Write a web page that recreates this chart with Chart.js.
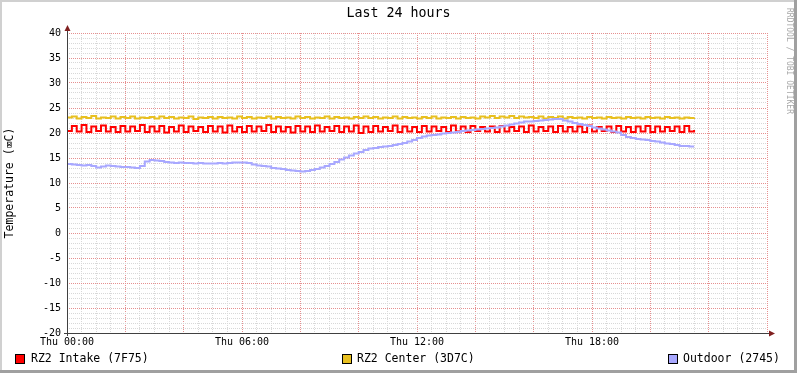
<!DOCTYPE html>
<html>
<head>
<meta charset="utf-8">
<title>Last 24 hours</title>
<script src="https://cdn.jsdelivr.net/npm/chart.js@4.4.1/dist/chart.umd.min.js"></script>
<style>
  html, body { margin: 0; padding: 0; background: #fff; }
  canvas { display: block; }
</style>
</head>
<body>
<canvas id="myChart" width="797" height="373"></canvas>
<script>
// ==Data (one sample every 10 minutes, starting Thu 00:00)
const stepMinutes = 10;
const seriesNames = ['RZ2 Intake (7F75)', 'RZ2 Center (3D7C)', 'Outdoor (2745)'];
const seriesColors = ['#ff0000', '#e8c020', '#a8a8ff'];
const hourLabels = ['Thu 00:00', 'Thu 06:00', 'Thu 12:00', 'Thu 18:00'];
const yTickLabels = [-20, -15, -10, -5, 0, 5, 10, 15, 20, 25, 30, 35, 40];

const intake = [
  20.4, 21.4, 20.3, 21.6, 20.2, 21.3, 20.4, 21.5, 20.3, 21.2,
  20.2, 21.4, 20.3, 21.3, 20.4, 21.6, 20.2, 21.3, 20.3, 21.4,
  20.1, 21.2, 20.3, 21.5, 20.2, 21.3, 20.4, 21.2, 20.2, 21.4,
  20.3, 21.3, 20.1, 21.5, 20.3, 21.2, 20.2, 21.4, 20.3, 21.3,
  20.4, 21.6, 20.2, 21.3, 20.3, 21.2, 20.1, 21.4, 20.3, 21.3,
  20.2, 21.5, 20.3, 21.2, 20.4, 21.4, 20.2, 21.3, 20.3, 21.5,
  20.0, 21.3, 20.2, 21.4, 20.3, 21.2, 20.4, 21.5, 20.2, 21.3,
  20.3, 21.2, 20.2, 21.4, 20.3, 21.3, 20.4, 21.2, 20.2, 21.5,
  20.3, 21.3, 20.2, 21.4, 20.4, 21.2, 20.3, 21.3, 20.2, 21.4,
  20.3, 21.2, 20.4, 21.3, 20.2, 21.5, 20.3, 21.2, 20.4, 21.3,
  20.2, 21.4, 20.3, 21.2, 20.3, 21.3, 20.2, 21.5, 20.3, 21.2,
  20.4, 21.3, 20.2, 21.4, 20.3, 21.2, 20.2, 21.3, 20.3, 21.4,
  20.2, 21.3, 20.3, 21.2, 20.4, 21.3, 20.2, 21.4, 20.3, 20.6
];

const center = [
  23.1, 23.3, 22.9, 23.2, 23.0, 23.4, 22.9, 23.1, 23.0, 23.3,
  22.9, 23.2, 23.0, 23.3, 22.9, 23.1, 23.0, 23.2, 22.9, 23.3,
  23.0, 23.2, 22.9, 23.1, 23.0, 23.3, 22.8, 23.1, 23.0, 23.2,
  22.9, 23.2, 23.0, 23.1, 22.9, 23.3, 23.0, 23.2, 22.9, 23.1,
  23.0, 23.3, 22.9, 23.2, 23.0, 23.1, 22.9, 23.3, 23.0, 23.2,
  22.9, 23.1, 23.0, 23.3, 22.9, 23.2, 23.0, 23.1, 22.9, 23.2,
  23.0, 23.3, 23.0, 23.2, 22.9, 23.1, 23.0, 23.3, 22.9, 23.2,
  23.0, 23.1, 22.9, 23.2, 23.0, 23.3, 22.9, 23.1, 23.0, 23.2,
  22.9, 23.2, 23.0, 23.1, 22.9, 23.3, 23.1, 23.4, 23.0, 23.3,
  23.1, 23.4, 23.0, 23.3, 23.1, 23.2, 23.0, 23.3, 22.9, 23.2,
  23.0, 23.3, 22.9, 23.2, 23.0, 23.1, 22.9, 23.2, 23.0, 23.1,
  22.9, 23.2, 23.0, 23.1, 22.9, 23.2, 23.0, 23.1, 22.9, 23.2,
  23.0, 23.1, 22.9, 23.2, 23.0, 23.1, 22.9, 23.1, 23.0, 23.1
];

const outdoor = [
  13.8, 13.7, 13.6, 13.5, 13.6, 13.4,
  13.1, 13.3, 13.5, 13.4, 13.3, 13.2,
  13.2, 13.1, 13.0, 13.4, 14.3, 14.6,
  14.5, 14.4, 14.2, 14.1, 14.0, 14.1,
  14.0, 14.0, 13.9, 14.0, 13.9, 13.9,
  13.9, 14.0, 13.9, 14.0, 14.1, 14.1,
  14.1, 14.0, 13.7, 13.5, 13.4, 13.3,
  13.0, 12.9, 12.8, 12.6, 12.5, 12.4,
  12.3, 12.4, 12.6, 12.8, 13.1, 13.4,
  13.8, 14.2, 14.7, 15.1, 15.5, 15.9,
  16.2, 16.6, 16.9, 17.0, 17.2, 17.3,
  17.4, 17.6, 17.8, 18.0, 18.3, 18.6,
  19.0, 19.3, 19.5, 19.6, 19.7, 19.9,
  20.0, 20.1, 20.2, 20.4, 20.5, 20.6,
  20.7, 20.8, 20.9, 21.0, 21.1, 21.3,
  21.5, 21.7, 21.9, 22.1, 22.3, 22.3,
  22.4, 22.5, 22.6, 22.7, 22.8, 22.8,
  22.5, 22.3, 22.0, 21.8, 21.6, 21.4,
  21.1, 20.9, 20.7, 20.5, 20.3, 20.1,
  19.6, 19.2, 19.0, 18.8, 18.7, 18.6,
  18.4, 18.3, 18.1, 17.9, 17.8, 17.6,
  17.4, 17.4, 17.3, 17.3
];

// hours since Thu 00:00 for sample i
function toPoints(values) {
  return values.map((v, i) => ({ x: i * stepMinutes / 60, y: v }));
}

const mono = '"DejaVu Sans Mono", "Liberation Mono", monospace';

const data = {
  datasets: [intake, center, outdoor].map((values, i) => ({
    label: seriesNames[i],
    data: toPoints(values),
    borderColor: seriesColors[i],
    backgroundColor: seriesColors[i],
    borderWidth: 2,
    pointRadius: 0,
    stepped: true,
    fill: false
  })).reverse()
};

// frame, title, axis arrows, legend and watermark, drawn the rrdtool way
const rrdDecor = {
  id: 'rrdDecor',
  beforeDraw(chart) {
    const ctx = chart.ctx;
    ctx.save();
    ctx.fillStyle = '#ffffff';
    ctx.fillRect(0, 0, chart.width, chart.height);
    ctx.restore();
  },
  afterDraw(chart) {
    const ctx = chart.ctx;
    const a = chart.chartArea;
    const W = chart.width, H = chart.height;
    ctx.save();

    // axis lines + arrows
    ctx.strokeStyle = '#404040';
    ctx.lineWidth = 1;
    ctx.beginPath();
    ctx.moveTo(a.left + 0.5, a.bottom + 3);
    ctx.lineTo(a.left + 0.5, a.top - 3);
    ctx.moveTo(a.left - 3, a.bottom + 0.5);
    ctx.lineTo(a.right + 3, a.bottom + 0.5);
    ctx.stroke();
    ctx.fillStyle = '#802020';
    ctx.beginPath();
    ctx.moveTo(a.left - 2.5, a.top - 2);
    ctx.lineTo(a.left + 3.5, a.top - 2);
    ctx.lineTo(a.left + 0.5, a.top - 8);
    ctx.closePath();
    ctx.fill();
    ctx.beginPath();
    ctx.moveTo(a.right + 2, a.bottom - 2.5);
    ctx.lineTo(a.right + 2, a.bottom + 3.5);
    ctx.lineTo(a.right + 8, a.bottom + 0.5);
    ctx.closePath();
    ctx.fill();

    // title
    ctx.fillStyle = '#000';
    ctx.font = '13.3px ' + mono;
    ctx.textAlign = 'center';
    ctx.textBaseline = 'middle';
    ctx.fillText('Last 24 hours', W / 2, 14);

    // legend
    const legendX = [[15, 31], [342, 357], [668, 683]];
    ctx.font = '11.5px ' + mono;
    ctx.textAlign = 'left';
    seriesNames.forEach((name, i) => {
      const [bx, tx] = legendX[i];
      ctx.fillStyle = seriesColors[i];
      ctx.fillRect(bx, 354, 10, 10);
      ctx.strokeStyle = '#000';
      ctx.lineWidth = 1;
      ctx.strokeRect(bx + 0.5, 354.5, 9, 9);
      ctx.fillStyle = '#000';
      ctx.fillText(name, tx, 359.5);
    });

    // watermark
    ctx.save();
    ctx.translate(789, 8);
    ctx.rotate(Math.PI / 2);
    ctx.fillStyle = '#a8a8a8';
    ctx.font = '8px ' + mono;
    ctx.textAlign = 'left';
    ctx.textBaseline = 'middle';
    ctx.fillText('RRDTOOL / TOBI OETIKER', 0, 0);
    ctx.restore();

    // frame
    ctx.fillStyle = '#d0d0d0';
    ctx.fillRect(0, 0, W, 2);
    ctx.fillRect(0, 0, 2, H);
    ctx.fillStyle = '#a0a0a0';
    ctx.fillRect(0, H - 3, W, 3);
    ctx.fillRect(W - 3, 0, 3, H);

    ctx.restore();
  }
};

const minorGrid = '#d8d8d8';
const majorGrid = '#e69090';

const config = {
  type: 'line',
  data,
  options: {
    responsive: false,
    animation: false,
    devicePixelRatio: 1,
    layout: { padding: { top: 33, right: 30, bottom: 0, left: 0 } },
    plugins: {
      legend: { display: false },
      title: { display: false },
      tooltip: { enabled: false }
    },
    scales: {
      x: {
        type: 'linear',
        min: 0,
        max: 24,
        afterFit: (scale) => { scale.height = 40; },
        border: { display: false, dash: [1, 1] },
        grid: {
          drawTicks: false,
          color: (c) => (c.tick && c.tick.value % 2 === 0) ? majorGrid : minorGrid
        },
        ticks: {
          stepSize: 0.5,
          autoSkip: false,
          maxRotation: 0,
          padding: 3,
          color: '#000',
          font: { family: mono, size: 10 },
          callback: (v) => (v % 6 === 0 && v < 24) ? hourLabels[v / 6] : ''
        }
      },
      y: {
        min: -20,
        max: 40,
        afterFit: (scale) => { scale.width = 67; },
        border: { display: false, dash: [1, 1] },
        grid: {
          drawTicks: false,
          color: (c) => (c.tick && c.tick.value % 5 === 0) ? majorGrid : minorGrid
        },
        ticks: {
          stepSize: 1,
          autoSkip: false,
          padding: 6,
          color: '#000',
          font: { family: mono, size: 10 },
          callback: (v) => yTickLabels.includes(v) ? String(v) : ''
        },
        title: {
          display: true,
          text: 'Temperature (\u2327C)',
          color: '#000',
          font: { family: mono, size: 11.5 },
          padding: { top: 3, bottom: 0 }
        }
      }
    }
  },
  plugins: [rrdDecor]
};

const myChart = new Chart(document.getElementById('myChart'), config);
</script>
</body>
</html>
